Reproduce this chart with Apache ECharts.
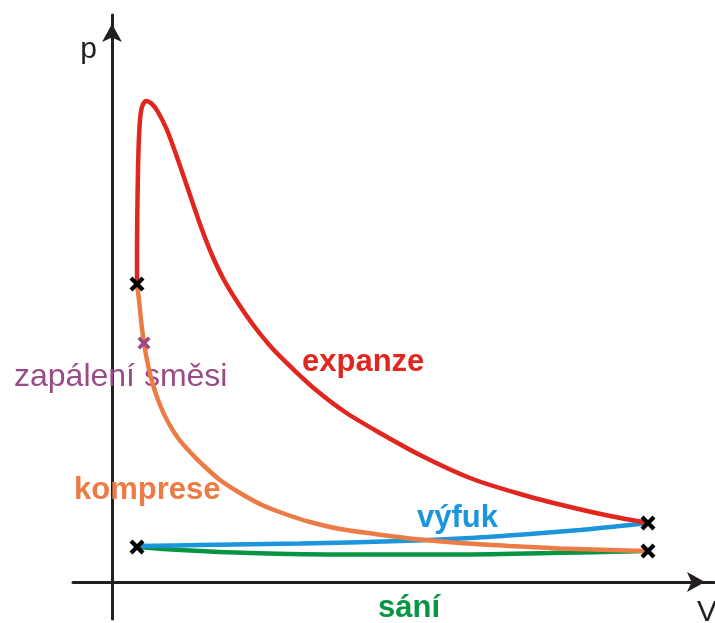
<!DOCTYPE html>
<html>
<head>
<meta charset="utf-8">
<script src="https://cdn.jsdelivr.net/npm/echarts@6/dist/echarts.min.js"></script>
<style>
  html, body { margin: 0; padding: 0; background: #fff; }
  #chart { width: 715px; height: 623px; }
</style>
</head>
<body>
<div id="chart"></div>
<script>
// p-V diagram of a four stroke engine, values in [V, p]
var expanze = [[25,298],[25,332],[25.5,382],[26.5,432],[28,462],[30,475],[34,481],[40,478],
  [46,470],[55,452],[66,422],[78,387],[89,355],[100,327],[112,302],[126,279],[142,256],
  [160,234],[180,214],[204,192],[233,170],[268,149],[308,127],[358,104],[408,88],
  [458,75],[498,66],[536,59]];
var komprese = [[25,298],[27,282],[29,262],[32,239],[36,217],[41,197],[48,177],[56,160],
  [66,144],[78,130],[92,116],[108,102],[128,89],[150,77],[173,68],[198,60],[228,53],
  [263,48],[303,43],[348,39],[398,36],[448,33.5],[498,32],[536,31]];
var vyfuk = [[25,36],[88,37],[188,38.5],[288,41],[358,44],[418,48],[468,52],[508,56],[536,59]];
var sani = [[25,35],[68,32],[138,29],[238,27.5],[338,27.5],[438,29],[536,31]];
var deadPoints = [[25,298],[536,59],[536,31],[25,35]];
var ignition = [[32,239]];

var labelText = ['zapálení směsi', 'expanze', 'komprese', 'výfuk', 'sání', 'V'];
var labelAt = [[-98,205],[190,220],[-38,92],[305,64],[266,-26],[585,-31]];

var red = '#e0261f', orange = '#ec7b45', blue = '#1b95dc', green = '#079544', purple = '#9a4a86';
var dark = '#231f20';
var labelColor = [purple, red, orange, blue, green, dark];
var font = "'Liberation Sans', Arial, sans-serif";

var cross = 'path://M0,2 L2,0 L5,3 L8,0 L10,2 L7,5 L10,8 L8,10 L5,7 L2,10 L0,8 L3,5 Z';

var labelData = [];
for (var i = 0; i < labelText.length; i++) {
  labelData.push({
    value: labelAt[i],
    label: {
      show: true,
      formatter: labelText[i],
      position: 'inside',
      align: 'left',
      verticalAlign: 'middle',
      color: labelColor[i],
      fontSize: i == 5 ? 30 : (i == 0 ? 32 : 31),
      fontWeight: (i == 0 || i == 5) ? 'normal' : 'bold',
      fontFamily: font
    }
  });
}

function curve(data, color) {
  return {
    type: 'line',
    data: data,
    smooth: 0.3,
    symbol: 'none',
    lineStyle: { color: color, width: 4.5, cap: 'round' },
    silent: true
  };
}

var myChart = echarts.init(document.getElementById('chart'));
var option = {
  animation: false,
  grid: { left: 73, right: 1, top: 15, bottom: 4 },
  xAxis: {
    type: 'value',
    min: -39,
    max: 602,
    axisLine: { onZero: true, lineStyle: { color: dark, width: 3 }, symbol: ['none', 'arrow'], symbolSize: [15, 18], symbolOffset: [0, -9] },
    axisTick: { show: false },
    axisLabel: { show: false },
    splitLine: { show: false }
  },
  yAxis: {
    type: 'value',
    min: -37,
    max: 567,
    name: 'p',
    nameLocation: 'end',
    nameGap: -35,
    nameTextStyle: { color: dark, fontSize: 30, fontFamily: font, align: 'right', verticalAlign: 'middle', padding: [0, 15, 0, 0] },
    axisLine: { onZero: true, lineStyle: { color: dark, width: 3 }, symbol: ['none', 'arrow'], symbolSize: [15, 18], symbolOffset: [0, -9] },
    axisTick: { show: false },
    axisLabel: { show: false },
    splitLine: { show: false }
  },
  series: [
    curve(sani, green),
    curve(vyfuk, blue),
    curve(komprese, orange),
    curve(expanze, red),
    {
      type: 'scatter',
      data: deadPoints,
      symbol: cross,
      symbolSize: 15,
      itemStyle: { color: '#000', opacity: 1 },
      z: 5
    },
    {
      type: 'scatter',
      data: ignition,
      symbol: cross,
      symbolSize: 13,
      itemStyle: { color: purple, opacity: 1 },
      z: 5
    },
    {
      type: 'scatter',
      data: labelData,
      symbolSize: 0,
      clip: false,
      itemStyle: { opacity: 1 },
      z: 1
    }
  ]
};
myChart.setOption(option);
</script>
</body>
</html>
